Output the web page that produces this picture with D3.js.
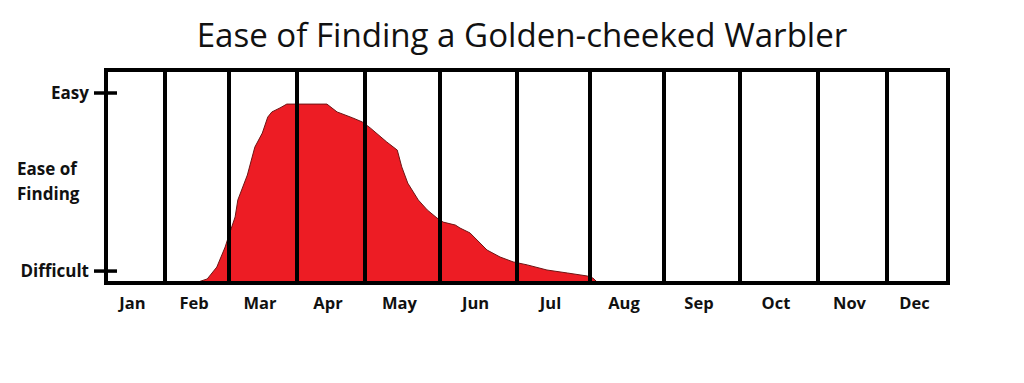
<!DOCTYPE html>
<html>
<head>
<meta charset="utf-8">
<script src="https://cdn.jsdelivr.net/npm/d3@7"></script>
<style>
  html, body { margin: 0; padding: 0; background: #fff; }
  svg { display: block; }
</style>
</head>
<body>
<svg id="chart" width="1024" height="383"></svg>
<script>
// ---- data ----
const months = ["Jan","Feb","Mar","Apr","May","Jun","Jul","Aug","Sep","Oct","Nov","Dec"];
// position through the year in months (0 = start of Jan, 12 = end of Dec)
const curveMonth = [1.47,1.66,1.81,1.94,2.00,2.09,2.13,2.27,2.38,2.49,2.57,2.63,2.75,2.85,
                    3.44,3.59,3.82,3.96,4.07,4.29,4.43,4.49,4.57,4.71,4.83,4.96,5.04,5.20,
                    5.26,5.39,5.61,5.78,5.95,6.14,6.41,6.69,6.96,7.04,7.11];
// ease of finding, 0 (none) .. 100 (top of frame)
const curveEase  = [0,1.9,7.5,16.9,22.5,31.0,39.0,50.7,63.8,70.4,77.9,80.3,82.2,84.0,
                    84.0,80.3,77.5,75.6,72.8,66.2,62.4,54.5,46.9,39.0,34.3,30.5,28.6,27.2,
                    25.8,23.5,15.5,12.2,9.9,8.5,6.1,4.7,3.3,2.3,0];
const yTickValues = [5.6, 89.2];
const yTickLabels = ["Difficult", "Easy"];
const yTitleLines = ["Ease of", "Finding"];
const titleText = "Ease of Finding a Golden-cheeked Warbler";

// ---- layout ----
const svg = d3.select("#chart");
const frameTop = 70, frameBottom = 283;
// hand-drawn month dividers are unevenly spaced
const x = d3.scaleLinear()
  .domain(d3.range(13))
  .range([106,165,229,297,365,440,517,590,664,740,818,887,948]);
const y = d3.scaleLinear().domain([0, 100]).range([frameBottom, frameTop]);

const pts = curveMonth.map((m, i) => ({m, v: curveEase[i]}));
const labelFont = "'Open Sans', sans-serif";

// title
const title = svg.append("text")
  .attr("x", 522).attr("y", 47)
  .attr("text-anchor", "middle")
  .style("font-family", labelFont)
  .style("font-size", "100px")
  .attr("fill", "#111")
  .text(titleText);
const tw = title.node().getComputedTextLength();
title.style("font-size", (100 * 651 / tw) + "px");

// area
const area = d3.area()
  .x(d => x(d.m))
  .y0(y(0))
  .y1(d => y(d.v))
  .curve(d3.curveLinear);
svg.append("path")
  .datum(pts)
  .attr("d", area)
  .attr("fill", "#ED1C24")
  .attr("stroke", "#6e1414")
  .attr("stroke-width", 1)
  .attr("stroke-linejoin", "round");

// month dividers
svg.append("g")
  .selectAll("line")
  .data(d3.range(1, 12))
  .join("line")
  .attr("x1", d => x(d)).attr("x2", d => x(d))
  .attr("y1", frameTop).attr("y2", frameBottom)
  .attr("stroke", "#000")
  .attr("stroke-width", 4);

// frame
svg.append("rect")
  .attr("x", x(0)).attr("y", frameTop)
  .attr("width", x(12) - x(0)).attr("height", frameBottom - frameTop)
  .attr("fill", "none")
  .attr("stroke", "#000")
  .attr("stroke-width", 4);

// month labels
svg.append("g")
  .selectAll("text")
  .data(months)
  .join("text")
  .attr("x", (d, i) => (x(i) + x(i + 1)) / 2 - 3)
  .attr("y", 309)
  .attr("text-anchor", "middle")
  .style("font-family", labelFont)
  .style("font-weight", "bold")
  .style("font-size", "16.5px")
  .attr("fill", "#111")
  .text(d => d);

// y ticks
const yt = svg.append("g");
yt.selectAll("line")
  .data(yTickValues)
  .join("line")
  .attr("x1", 94).attr("x2", 117)
  .attr("y1", d => y(d)).attr("y2", d => y(d))
  .attr("stroke", "#000")
  .attr("stroke-width", 3.5);
yt.selectAll("text")
  .data(yTickValues)
  .join("text")
  .attr("x", 89)
  .attr("y", d => y(d) + 6)
  .attr("text-anchor", "end")
  .style("font-family", labelFont)
  .style("font-weight", "bold")
  .style("font-size", "17px")
  .attr("fill", "#111")
  .text((d, i) => yTickLabels[i]);

// y title
svg.append("g")
  .selectAll("text")
  .data(yTitleLines)
  .join("text")
  .attr("x", 17)
  .attr("y", (d, i) => 175 + i * 25)
  .style("font-family", labelFont)
  .style("font-weight", "bold")
  .style("font-size", "17px")
  .attr("fill", "#111")
  .text(d => d);
</script>
</body>
</html>
